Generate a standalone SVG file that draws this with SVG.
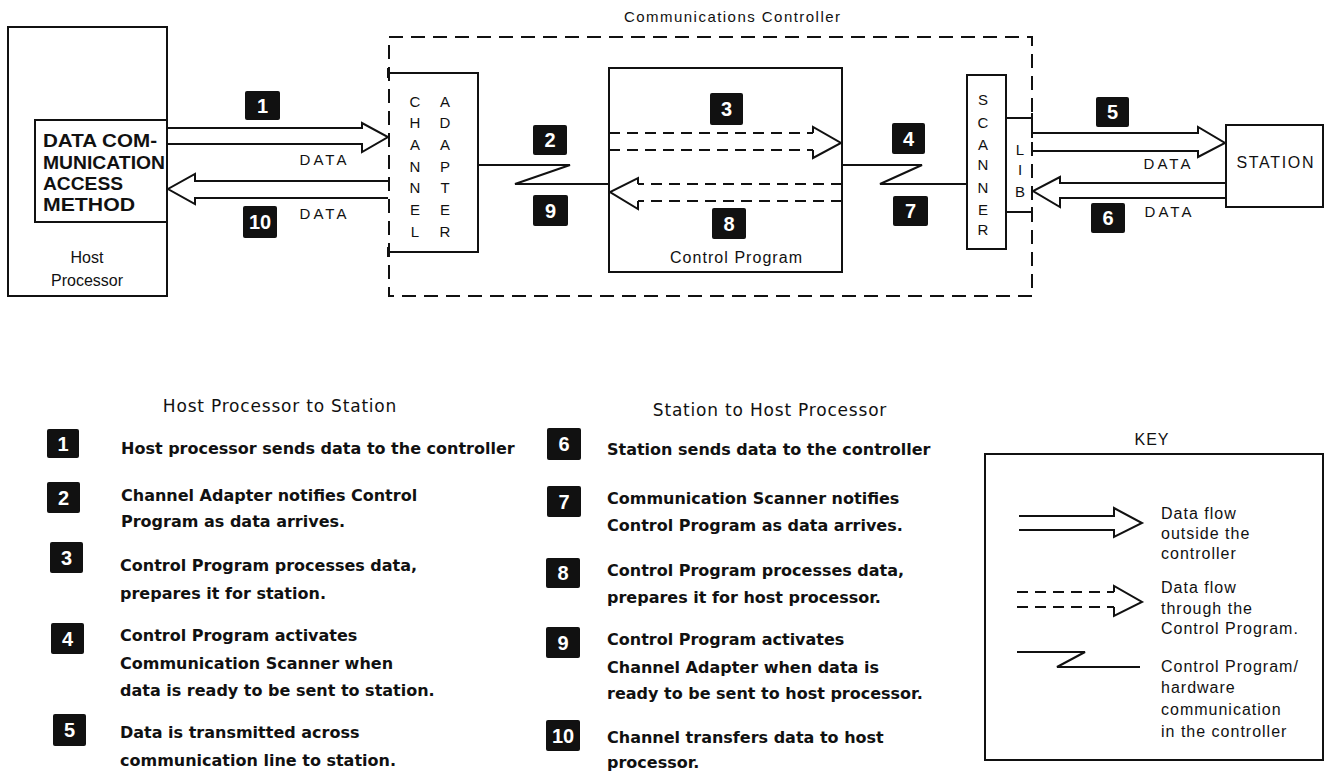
<svg xmlns="http://www.w3.org/2000/svg" width="1330" height="772" viewBox="0 0 1330 772">
<defs>
<style>
.bx{fill:none;stroke:#111;stroke-width:2}
.ln{fill:none;stroke:#111;stroke-width:2;stroke-linejoin:miter}
.dl{fill:none;stroke:#111;stroke-width:2;stroke-dasharray:11 7}
.db{fill:none;stroke:#111;stroke-width:2;stroke-dasharray:14 8}
.t{font-family:"Liberation Sans",Arial,sans-serif;font-size:15px;fill:#111}
.tc{text-anchor:middle}
.b{font-family:"Liberation Sans",Arial,sans-serif;font-weight:bold;font-size:18px;fill:#111}
.lg{font-family:"DejaVu Sans",sans-serif;font-weight:bold;font-size:16px;fill:#111}
.hd{font-family:"DejaVu Sans",sans-serif;font-size:17px;letter-spacing:0.8px;fill:#111;text-anchor:middle}
.bg rect{fill:#111}
.bg text{font-family:"Liberation Sans",Arial,sans-serif;font-weight:bold;font-size:20px;fill:#fff;text-anchor:middle}
.kt{font-family:"Liberation Sans",Arial,sans-serif;font-size:16px;letter-spacing:1px;fill:#111}
</style>
</defs>
<rect width="1330" height="772" fill="#fff"/>

<g id="host-processor">
<rect class="bx" x="8" y="27" width="159" height="269"/>
<text class="t tc" x="87" y="263" style="font-size:16px">Host</text>
<text class="t tc" x="87" y="286" style="font-size:16px">Processor</text>
</g>

<g id="dcam">
<rect class="bx" x="35" y="120" width="132" height="102"/>
<text class="b" x="43" y="147" textLength="114" lengthAdjust="spacingAndGlyphs">DATA COM-</text>
<text class="b" x="43" y="169" textLength="122" lengthAdjust="spacingAndGlyphs">MUNICATION</text>
<text class="b" x="43" y="190" textLength="80" lengthAdjust="spacingAndGlyphs">ACCESS</text>
<text class="b" x="43" y="211" textLength="92" lengthAdjust="spacingAndGlyphs">METHOD</text>
</g>

<g id="communications-controller">
<rect class="db" x="389" y="37" width="643" height="259"/>
<text class="t tc" x="732" y="22" textLength="216" lengthAdjust="spacing">Communications Controller</text>
</g>

<g id="channel-adapter">
<path class="ln" d="M388,73 H478 V252 H388 M388,68 V78 M388,247 V257"/>
<g class="t tc">
<text x="415" y="107">C</text><text x="415" y="128">H</text><text x="415" y="150">A</text><text x="415" y="172">N</text><text x="415" y="193">N</text><text x="415" y="215">E</text><text x="415" y="237">L</text>
<text x="445" y="107">A</text><text x="445" y="128">D</text><text x="445" y="150">A</text><text x="445" y="172">P</text><text x="445" y="193">T</text><text x="445" y="215">E</text><text x="445" y="237">R</text>
</g>
</g>

<g id="control-program">
<rect class="bx" x="609" y="68" width="233" height="204"/>
<text class="t tc" x="736" y="263" style="font-size:16px" textLength="132" lengthAdjust="spacing">Control Program</text>
</g>

<g id="scanner">
<rect class="bx" x="967" y="75" width="39" height="174"/>
<g class="t tc">
<text x="983" y="105">S</text><text x="983" y="128">C</text><text x="983" y="150">A</text><text x="983" y="170">N</text><text x="983" y="193">N</text><text x="983" y="215">E</text><text x="983" y="235">R</text>
</g>
</g>

<g id="lib">
<path class="ln" d="M1006,118 H1032 M1006,212 H1032 M1032,113 V123 M1032,207 V217"/>
<g class="t tc">
<text x="1020" y="155">L</text><text x="1020" y="175">I</text><text x="1020" y="197">B</text>
</g>
</g>

<g id="station">
<rect class="bx" x="1226" y="125" width="97" height="82"/>
<text class="t tc" x="1275" y="168" style="font-size:16px" textLength="77" lengthAdjust="spacing">STATION</text>
</g>

<g id="connectors">
<path class="ln" d="M167,128 H362 V123 L388,137 L362,152 V144 H167"/>
<path class="ln" d="M388,181 H195 V174 L168,189 L195,204 V198 H388"/>
<path class="ln" d="M478,165 H570 L515,184 H609"/>
<path class="dl" d="M609,133 H813 M609,150 H813"/>
<path class="ln" d="M813,133 V127 L841,143 L813,158 V150"/>
<path class="dl" d="M842,184 H638 M842,201 H638"/>
<path class="ln" d="M638,184 V178 L610,192 L638,209 V201"/>
<path class="ln" d="M842,165 H922 L880,184 H967"/>
<path class="ln" d="M1032,133 H1198 V127 L1225,143 L1198,157 V151 H1032 M1032,128 V138 M1032,146 V156"/>
<path class="ln" d="M1226,183 H1060 V177 L1033,191 L1060,207 V198 H1226"/>
<text class="t tc" x="323" y="165" textLength="47" lengthAdjust="spacing">DATA</text>
<text class="t tc" x="323" y="219" textLength="47" lengthAdjust="spacing">DATA</text>
<text class="t tc" x="1167" y="169" textLength="47" lengthAdjust="spacing">DATA</text>
<text class="t tc" x="1168" y="217" textLength="47" lengthAdjust="spacing">DATA</text>
</g>

<g id="badges" class="bg">
<g id="b1"><rect x="245" y="91" width="35" height="29" rx="2"/><text x="262.5" y="113">1</text></g>
<g id="b10"><rect x="243" y="206" width="34" height="32" rx="2"/><text x="260" y="229">10</text></g>
<g id="b2"><rect x="533" y="125" width="34" height="30" rx="2"/><text x="550" y="147">2</text></g>
<g id="b9"><rect x="533" y="195" width="35" height="31" rx="2"/><text x="550.5" y="218">9</text></g>
<g id="b3"><rect x="710" y="93" width="33" height="32" rx="2"/><text x="726.5" y="116">3</text></g>
<g id="b8"><rect x="712" y="208" width="34" height="31" rx="2"/><text x="729" y="231">8</text></g>
<g id="b4"><rect x="892" y="123" width="33" height="31" rx="2"/><text x="908.5" y="146">4</text></g>
<g id="b7"><rect x="893" y="196" width="35" height="30" rx="2"/><text x="910.5" y="218">7</text></g>
<g id="b5"><rect x="1096" y="97" width="33" height="30" rx="2"/><text x="1112.5" y="119">5</text></g>
<g id="b6"><rect x="1091" y="203" width="34" height="30" rx="2"/><text x="1108" y="225">6</text></g>
</g>

<g id="legend-host-to-station">
<text class="hd" x="280" y="412">Host Processor to Station</text>
<g class="bg">
<rect x="47" y="429" width="32" height="29" rx="2"/><text x="63" y="451">1</text>
<rect x="47" y="482" width="33" height="31" rx="2"/><text x="63.5" y="505">2</text>
<rect x="50" y="542" width="33" height="31" rx="2"/><text x="66.5" y="565">3</text>
<rect x="51" y="623" width="33" height="31" rx="2"/><text x="67.5" y="646">4</text>
<rect x="53" y="714" width="33" height="32" rx="2"/><text x="69.5" y="737">5</text>
</g>
<text class="lg" x="121" y="454">Host processor sends data to the controller</text>
<text class="lg" x="121" y="501">Channel Adapter notifies Control</text>
<text class="lg" x="121" y="527">Program as data arrives.</text>
<text class="lg" x="120" y="571">Control Program processes data,</text>
<text class="lg" x="120" y="599">prepares it for station.</text>
<text class="lg" x="120" y="641">Control Program activates</text>
<text class="lg" x="120" y="669">Communication Scanner when</text>
<text class="lg" x="120" y="696">data is ready to be sent to station.</text>
<text class="lg" x="120" y="738">Data is transmitted across</text>
<text class="lg" x="120" y="766">communication line to station.</text>
</g>

<g id="legend-station-to-host">
<text class="hd" x="770" y="416">Station to Host Processor</text>
<g class="bg">
<rect x="547" y="428" width="34" height="32" rx="2"/><text x="564" y="451">6</text>
<rect x="547" y="486" width="34" height="31" rx="2"/><text x="564" y="509">7</text>
<rect x="546" y="558" width="34" height="30" rx="2"/><text x="563" y="580">8</text>
<rect x="546" y="627" width="34" height="31" rx="2"/><text x="563" y="650">9</text>
<rect x="546" y="720" width="34" height="31" rx="2"/><text x="563" y="743">10</text>
</g>
<text class="lg" x="607" y="455">Station sends data to the controller</text>
<text class="lg" x="607" y="504">Communication Scanner notifies</text>
<text class="lg" x="607" y="531">Control Program as data arrives.</text>
<text class="lg" x="607" y="576">Control Program processes data,</text>
<text class="lg" x="607" y="603">prepares it for host processor.</text>
<text class="lg" x="607" y="645">Control Program activates</text>
<text class="lg" x="607" y="673">Channel Adapter when data is</text>
<text class="lg" x="607" y="699">ready to be sent to host processor.</text>
<text class="lg" x="607" y="743">Channel transfers data to host</text>
<text class="lg" x="607" y="768">processor.</text>
</g>

<g id="key">
<text class="kt tc" x="1152" y="445">KEY</text>
<rect class="bx" x="985" y="454" width="338" height="306"/>
<path class="ln" d="M1019,516 H1114 V508 L1142,523 L1114,537 V530 H1019"/>
<path class="dl" d="M1017,592 H1114 M1017,607 H1114"/>
<path class="ln" d="M1114,592 V586 L1142,602 L1114,616 V607"/>
<path class="ln" d="M1017,652 H1085 L1057,667 H1140"/>
<text class="kt" x="1161" y="519">Data flow</text>
<text class="kt" x="1161" y="539">outside the</text>
<text class="kt" x="1161" y="559">controller</text>
<text class="kt" x="1161" y="593">Data flow</text>
<text class="kt" x="1161" y="614">through the</text>
<text class="kt" x="1161" y="634">Control Program.</text>
<text class="kt" x="1161" y="672">Control Program/</text>
<text class="kt" x="1161" y="693">hardware</text>
<text class="kt" x="1161" y="715">communication</text>
<text class="kt" x="1161" y="737">in the controller</text>
</g>
</svg>
